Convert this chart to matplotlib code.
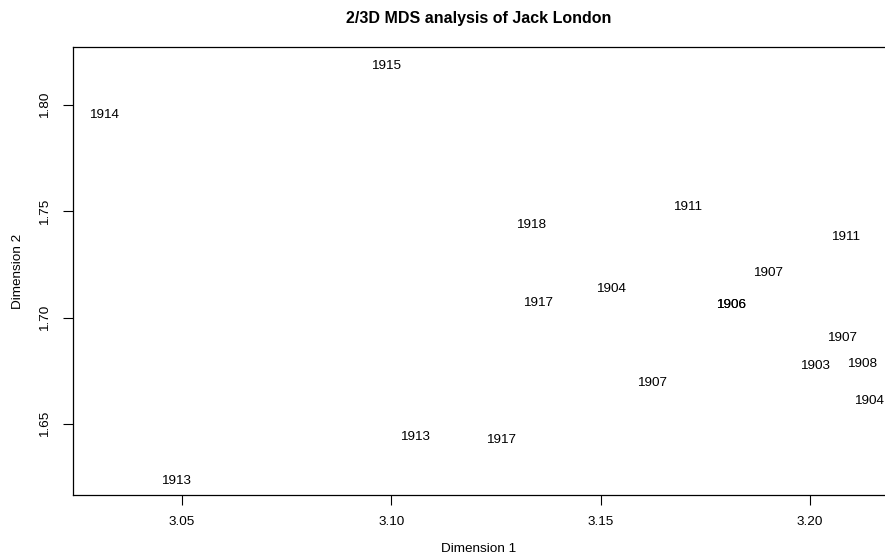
import matplotlib
matplotlib.use("Agg")
import matplotlib.pyplot as plt

plt.rcParams['font.family'] = ['Liberation Sans', 'DejaVu Sans']

labels = ['1914', '1915', '1918', '1911', '1911', '1907', '1904', '1917', '1906', '1906',
          '1907', '1903', '1908', '1904', '1907', '1913', '1917', '1913']
dim1 = [3.0313, 3.0988, 3.1335, 3.1708, 3.2086, 3.1899, 3.1526, 3.1350, 3.1811, 3.1811,
        3.2077, 3.2012, 3.2125, 3.2141, 3.1624, 3.1057, 3.1261, 3.0486]
dim2 = [1.7962, 1.8193, 1.7444, 1.7529, 1.7387, 1.7216, 1.7141, 1.7075, 1.7066, 1.7066,
        1.6911, 1.6779, 1.6788, 1.6614, 1.6699, 1.6448, 1.6434, 1.6241]
xticks = [3.05, 3.10, 3.15, 3.20]
yticks = [1.65, 1.70, 1.75, 1.80]

fig = plt.figure(figsize=(8.85, 5.58), dpi=100)
ax = fig.add_axes([73/885, 1 - 495/558, 1.0 - 73/885 + 0.002, (495 - 47)/558])
ax.set_xlim(3.0239, 3.2184)
ax.set_ylim(1.6166, 1.8273)

for lab, x, y in zip(labels, dim1, dim2):
    ax.text(x, y, lab, ha='center', va='center_baseline', fontsize=9.7, color='black')

ax.set_xticks(xticks)
ax.set_xticklabels([f"{v:.2f}" for v in xticks])
ax.set_yticks(yticks)
ax.set_yticklabels([f"{v:.2f}" for v in yticks], rotation=90, va='center')
ax.tick_params(axis='both', direction='out', length=7, width=0.8, labelsize=9.7)
ax.tick_params(axis='x', pad=8)
ax.tick_params(axis='y', pad=9)
for s in ax.spines.values():
    s.set_linewidth(0.9)

fig.text(479/885, 1 - 549/558, 'Dimension 1', ha='center', va='center', fontsize=9.7)
fig.text(18/885, 1 - 271/558, 'Dimension 2', ha='center', va='center', fontsize=9.7, rotation=90)
fig.text(479/885, 1 - 18/558, '2/3D MDS analysis of Jack London',
         ha='center', va='center', fontsize=11.5, fontweight='bold')

fig.savefig('out.png', dpi=100)
